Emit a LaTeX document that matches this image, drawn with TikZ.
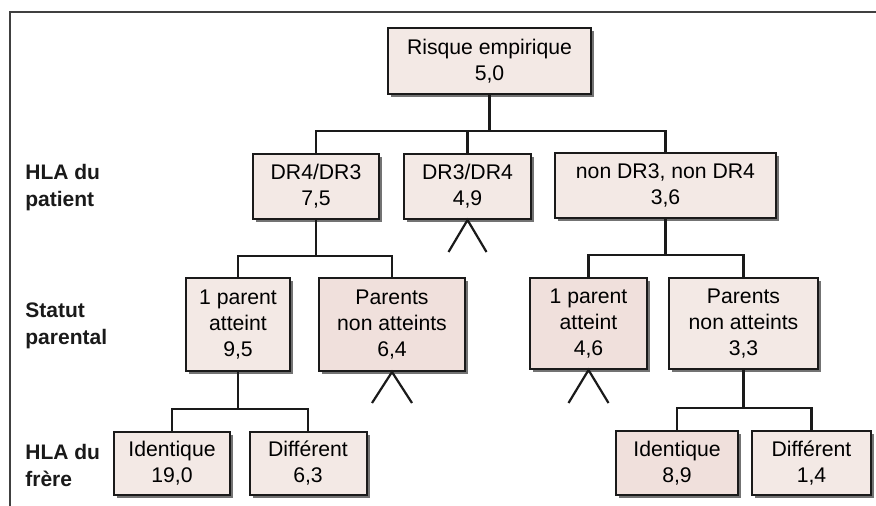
\documentclass[tikz,border=0pt]{standalone}
\usepackage{fontspec}
\setmainfont{Liberation Sans}
\usetikzlibrary{calc,shadows}
\definecolor{boxlight}{HTML}{F3E9E5}
\definecolor{boxpink}{HTML}{F0E0DC}
\definecolor{inkc}{HTML}{1A1A1A}
\tikzset{
  rbox/.style={draw=inkc, line width=1pt, fill=boxlight, align=center,
    inner sep=0pt, font=\fontsize{10.6}{13}\selectfont,
    drop shadow={shadow xshift=1.6pt, shadow yshift=-1.6pt, fill=black!55, opacity=1}},
  pinkbox/.style={rbox, fill=boxpink},
  conn/.style={draw=inkc, line width=1.1pt},
  lbl/.style={anchor=west, align=left, font=\fontsize{10.5}{13.5}\selectfont\bfseries, text=inkc, inner sep=0pt},
  frame/.style={draw=black!75, line width=1pt}
}
\begin{document}
\begin{tikzpicture}[x=0.5pt, y=-0.5pt]
\useasboundingbox (0,0) rectangle (876,506);
\fill[white] (0,0) rectangle (876,506);
% frame
\coordinate (fa) at (10,506);
\coordinate (fb) at (10,12);
\coordinate (fc) at (876,12);
\draw[frame] (fa) -- (fb) -- (fc);
% boxes
\node[rbox, minimum width=101.5pt, minimum height=33pt] (root) at (489.5,61) {Risque empirique\\5,0};
\node[rbox, minimum width=63pt, minimum height=32.5pt] (dr43) at (316,186.5) {DR4/DR3\\7,5};
\node[rbox, minimum width=63.5pt, minimum height=32.5pt] (dr34) at (467.5,186.5) {DR3/DR4\\4,9};
\node[rbox, minimum width=110.5pt, minimum height=32.5pt] (nondr) at (665.5,185.5) {non DR3, non DR4\\3,6};
\node[rbox, minimum width=52pt, minimum height=46.5pt] (p1l) at (238,324.5) {1 parent\\atteint\\9,5};
\node[pinkbox, minimum width=73pt, minimum height=46.5pt] (pnl) at (392,324.5) {Parents\\non atteints\\6,4};
\node[rbox, minimum width=58pt, minimum height=31.5pt] (id1) at (172,463.5) {Identique\\19,0};
\node[rbox, minimum width=58.5pt, minimum height=31.5pt] (df1) at (308,463.5) {Différent\\6,3};
\node[pinkbox, minimum width=58.5pt, minimum height=45.5pt] (p1r) at (588.5,323.5) {1 parent\\atteint\\4,6};
\node[rbox, minimum width=74.5pt, minimum height=45.5pt] (pnr) at (743.5,323.5) {Parents\\non atteints\\3,3};
\node[pinkbox, minimum width=61pt, minimum height=32pt] (id2) at (677,463) {Identique\\8,9};
\node[rbox, minimum width=59.5pt, minimum height=32pt] (df2) at (811.5,463) {Différent\\1,4};
% row labels
\node[lbl] (l1) at (25,187.5) {HLA du\\patient};
\node[lbl] (l2) at (25,325.5) {Statut\\parental};
\node[lbl] (l3) at (25,465) {HLA du\\frère};
% connectors
\coordinate (h0) at (489.5,131);
\draw[conn] (root.south) -- (h0);
\draw[conn] (dr43.north) |- (h0) -| (nondr.north);
\draw[conn] (dr34.north) -- (dr34.north |- h0);
\coordinate (h1) at (316,256);
\draw[conn] (dr43.south) -- (h1);
\draw[conn] (p1l.north) |- (h1) -| (pnl.north);
\coordinate (h2) at (238,409);
\draw[conn] (p1l.south) -- (h2);
\draw[conn] (id1.north) |- (h2) -| (df1.north);
\coordinate (h3) at (665.5,255);
\draw[conn] (nondr.south) -- (h3);
\draw[conn] (p1r.north) |- (h3) -| (pnr.north);
\coordinate (h4) at (743.5,408);
\draw[conn] (pnr.south) -- (h4);
\draw[conn] (id2.north) |- (h4) -| (df2.north);
% carets
\draw[conn] ($(dr34.south)+(-19,32)$) -- (dr34.south) -- ++(19,32);
\draw[conn] ($(pnl.south)+(-20,31)$) -- (pnl.south) -- ++(20,31);
\draw[conn] ($(p1r.south)+(-20,33)$) -- (p1r.south) -- ++(20,33);
\end{tikzpicture}
\end{document}
